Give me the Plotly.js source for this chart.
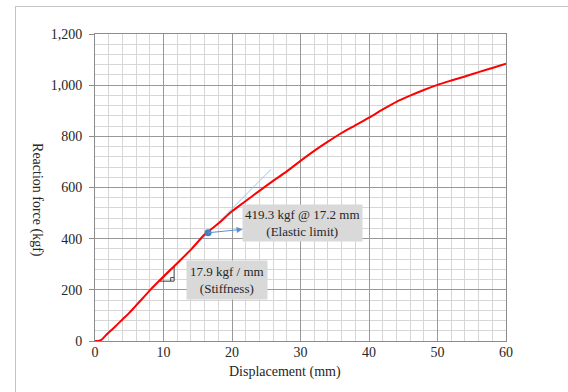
<!DOCTYPE html>
<html>
<head>
<meta charset="utf-8">
<script src="https://cdn.plot.ly/plotly-3.0.1.min.js"></script>
<style>
  html, body { margin: 0; padding: 0; background: #fff; overflow: hidden; }
  #wrap { position: relative; width: 568px; height: 392px; }
  #frame { position: absolute; left: 15px; top: 6px; width: 700px; height: 500px;
           border-left: 1px solid #c4c4c4; border-top: 1px solid #c4c4c4; pointer-events: none; }
  #chart { position: absolute; left: 0; top: 0; width: 568px; height: 392px; }
</style>
</head>
<body>
<div id="wrap">
  <div id="chart"></div>
  <div id="frame"></div>
</div>
<script>
// ---- data ----
const displacement = [0, 0.5, 1.0, 1.5, 2, 3, 4, 5, 6, 7, 8, 10, 12, 14, 16, 18, 20, 22, 24, 26, 28, 30,
                      32, 34, 36, 38, 40, 42, 44, 46, 48, 50, 52, 54, 56, 58, 60];
const reactionForce = [0, 0, 6, 20, 33, 58, 84, 110, 139, 168, 198, 252, 304, 357, 416, 459, 507, 547, 587, 626, 663, 704,
                       743, 779, 813, 843, 873, 905, 935, 959, 981, 1001, 1018, 1034, 1051, 1067, 1084];

// stiffness tangent line
const tangentX = [1.2, 25.7];
const tangentY = [10, 671];

// elastic limit point
const elasticX = [16.5];
const elasticY = [423];

// stiffness triangle (x extent along tangent)
const triX = [9.5, 11.55];

const xTicks = [0, 10, 20, 30, 40, 50, 60];
const yTicks = [0, 200, 400, 600, 800, 1000, 1200];

const elasticLabel = "419.3 kgf @ 17.2 mm<br>(Elastic limit)";
const stiffLabel = "17.9 kgf / mm<br>(Stiffness)";
const xTitle = "Displacement (mm)";
const yTitle = "Reaction force (kgf)";

// ---- derived ----
const slope = (tangentY[1] - tangentY[0]) / (tangentX[1] - tangentX[0]);
const tanAt = x => tangentY[0] + slope * (x - tangentX[0]);
const t0 = tanAt(triX[0]), t1 = tanAt(triX[1]);
const sq = 0.5, sqY = 14;
const triPathX = [triX[0], triX[1], triX[1], triX[0], null, triX[1] - sq, triX[1] - sq, triX[1]];
const triPathY = [t0, t1, t0, t0, null, t0, t0 + sqY, t0 + sqY];

const serif = "Liberation Serif, Times New Roman, serif";
const txt = '#262626';

const traces = [
  { x: tangentX, y: tangentY, mode: 'lines', line: { color: '#9dc3e6', width: 1 }, hoverinfo: 'skip' },
  { x: triPathX, y: triPathY, mode: 'lines', line: { color: '#404040', width: 1 }, hoverinfo: 'skip' },
  { x: displacement, y: reactionForce, mode: 'lines', line: { color: '#ff0000', width: 2, shape: 'spline', smoothing: 0.8 } },
  { x: elasticX, y: elasticY, mode: 'markers', marker: { color: '#4a7ebb', size: 7 } }
];

const layout = {
  width: 568, height: 392,
  margin: { l: 95, r: 62, t: 34, b: 51 },
  paper_bgcolor: 'rgba(0,0,0,0)', plot_bgcolor: '#fff',
  showlegend: false,
  font: { family: serif, size: 14, color: txt },
  xaxis: {
    range: [0, 60], tickvals: xTicks, ticks: '', showline: true, mirror: true, linecolor: '#8c8c8c',
    gridcolor: '#999999', zeroline: false, ticklabelstandoff: -2,
    minor: { dtick: 2, showgrid: true, gridcolor: '#d6d6d6', gridwidth: 1 },
    tickfont: { family: serif, size: 14, color: txt }
  },
  yaxis: {
    range: [0, 1200], tickvals: yTicks, tickformat: ',', ticks: 'outside', ticklen: 5, tickcolor: '#8c8c8c',
    showline: true, mirror: true, linecolor: '#8c8c8c', gridcolor: '#999999', zeroline: false,
    ticklabelstandoff: 4,
    minor: { dtick: 40, showgrid: true, gridcolor: '#d6d6d6', gridwidth: 1 },
    tickfont: { family: serif, size: 14, color: txt }
  },
  annotations: [
    { text: elasticLabel, xref: 'x', yref: 'y', x: elasticX[0], y: elasticY[0],
      axref: 'x', ayref: 'y', ax: 30.3, ay: 460,
      showarrow: true, arrowside: 'start', arrowhead: 2, startarrowhead: 2, arrowsize: 1, startarrowsize: 1.2, arrowwidth: 1,
      arrowcolor: '#5b8fcf', bgcolor: '#d9d9d9', borderpad: 2,
      font: { family: serif, size: 13, color: txt } },
    { text: stiffLabel, xref: 'x', yref: 'y', x: 19.2, y: 240, showarrow: false,
      bgcolor: '#d9d9d9', borderpad: 3,
      font: { family: serif, size: 13, color: txt } },
    { text: xTitle, xref: 'paper', yref: 'paper', x: 0.462, y: 0, xanchor: 'center', yanchor: 'middle', yshift: -31,
      showarrow: false, font: { family: serif, size: 14, color: txt } },
    { text: yTitle, xref: 'paper', yref: 'paper', x: -0.141, y: 0.459, xanchor: 'center', yanchor: 'middle',
      textangle: 90, showarrow: false, font: { family: serif, size: 14, color: txt } }
  ]
};

Plotly.newPlot('chart', traces, layout, { displayModeBar: false, staticPlot: true });
</script>
</body>
</html>
